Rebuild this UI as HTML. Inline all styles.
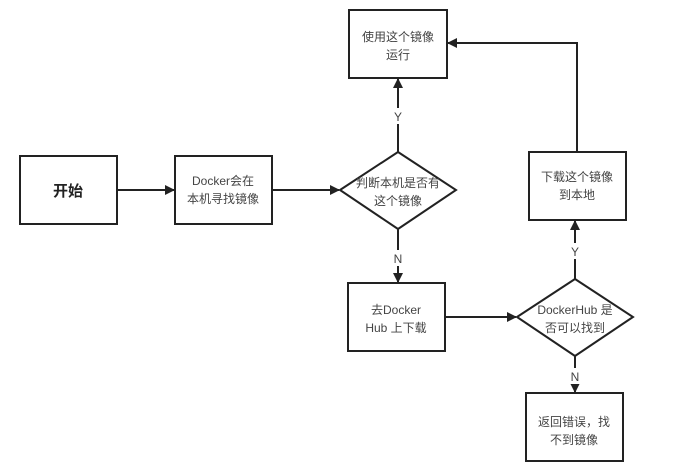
<!DOCTYPE html>
<html><head><meta charset="utf-8"><style>
body{margin:0;background:#fff;}
svg{display:block;}
text{font-family:"Liberation Sans","Noto Sans CJK SC",sans-serif;fill:#444;font-size:12px;text-anchor:middle;}
</style></head><body>
<svg width="694" height="473" viewBox="0 0 694 473">
<defs><marker id="a" markerWidth="10" markerHeight="10" refX="9" refY="5" orient="auto" markerUnits="userSpaceOnUse"><path d="M0,0 L10,5 L0,10 z" fill="#222"/></marker></defs>
<g fill="#fff" stroke="#222" stroke-width="2">
<rect x="20" y="156" width="97" height="68"/>
<rect x="175" y="156" width="97" height="68"/>
<rect x="349" y="10" width="98" height="68"/>
<rect x="529" y="152" width="97" height="68"/>
<rect x="348" y="283" width="97" height="68"/>
<rect x="526" y="393" width="97" height="68"/>
<polygon points="340,190 398,152 456,190 398,229"/>
<polygon points="517,317 575,279 633,317 575,356"/>
</g>
<g stroke="#222" stroke-width="2" fill="none">
<line x1="117" y1="190" x2="174" y2="190" marker-end="url(#a)"/>
<line x1="272" y1="190" x2="339" y2="190" marker-end="url(#a)"/>
<line x1="398" y1="152" x2="398" y2="79" marker-end="url(#a)"/>
<line x1="398" y1="229" x2="398" y2="282" marker-end="url(#a)"/>
<line x1="445" y1="317" x2="516" y2="317" marker-end="url(#a)"/>
<line x1="575" y1="279" x2="575" y2="221" marker-end="url(#a)"/>
<line x1="575" y1="356" x2="575" y2="392" marker-end="url(#a)"/>
<polyline points="577,152 577,43 448,43" marker-end="url(#a)"/>
</g>
<g fill="#fff"><rect x="391" y="108" width="14" height="16"/><rect x="391" y="250" width="14" height="16"/><rect x="568" y="243" width="14" height="16"/><rect x="568" y="368" width="14" height="16"/></g>
<text x="398" y="121">Y</text>
<text x="398" y="263">N</text>
<text x="575" y="256">Y</text>
<text x="575" y="381">N</text>
<text x="68" y="196" style="font-size:15px;font-weight:bold;fill:#222">开始</text>
<text x="223" y="185">Docker会在</text><text x="223" y="203">本机寻找镜像</text>
<text x="398" y="41">使用这个镜像</text><text x="398" y="59">运行</text>
<text x="398" y="187">判断本机是否有</text><text x="398" y="205">这个镜像</text>
<text x="577" y="181">下载这个镜像</text><text x="577" y="199">到本地</text>
<text x="396" y="314">去Docker</text><text x="396" y="332">Hub 上下载</text>
<text x="575" y="314">DockerHub 是</text><text x="575" y="332">否可以找到</text>
<text x="574" y="426">返回错误，找</text><text x="574" y="444">不到镜像</text>
</svg>
</body></html>
